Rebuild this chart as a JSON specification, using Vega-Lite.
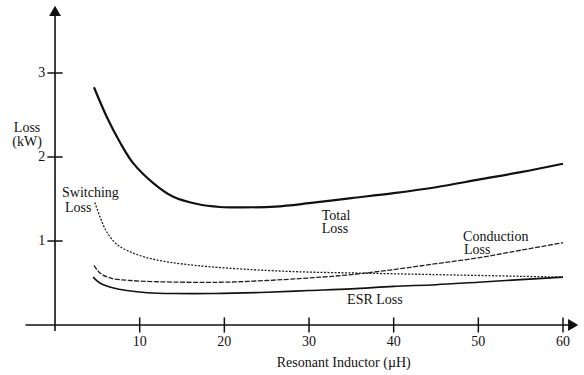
{
  "$schema": "https://vega.github.io/schema/vega-lite/v6.json",
  "width": 584,
  "height": 375,
  "padding": 0,
  "autosize": {"type": "fit", "contains": "padding"},
  "background": "white",
  "config": {"view": {"stroke": null}, "text": {"font": "Liberation Serif", "color": "#111"}},
  "datasets": {
    "one": [{}],
    "curves": [
      {"series": "Total", "L": 4.6, "loss": 2.83},
      {"series": "Total", "L": 6.1, "loss": 2.48},
      {"series": "Total", "L": 7.7, "loss": 2.17},
      {"series": "Total", "L": 9.2, "loss": 1.93},
      {"series": "Total", "L": 11.6, "loss": 1.69},
      {"series": "Total", "L": 13.9, "loss": 1.53},
      {"series": "Total", "L": 16.8, "loss": 1.44},
      {"series": "Total", "L": 19.5, "loss": 1.405},
      {"series": "Total", "L": 22, "loss": 1.40},
      {"series": "Total", "L": 26, "loss": 1.41},
      {"series": "Total", "L": 30, "loss": 1.45},
      {"series": "Total", "L": 35, "loss": 1.51},
      {"series": "Total", "L": 40, "loss": 1.57},
      {"series": "Total", "L": 45, "loss": 1.64},
      {"series": "Total", "L": 50, "loss": 1.73},
      {"series": "Total", "L": 55, "loss": 1.82},
      {"series": "Total", "L": 60, "loss": 1.92},
      {"series": "Switching", "L": 4.7, "loss": 1.46},
      {"series": "Switching", "L": 5.3, "loss": 1.29},
      {"series": "Switching", "L": 6.1, "loss": 1.11},
      {"series": "Switching", "L": 7.3, "loss": 0.96},
      {"series": "Switching", "L": 8.9, "loss": 0.87},
      {"series": "Switching", "L": 10.9, "loss": 0.80},
      {"series": "Switching", "L": 12.8, "loss": 0.76},
      {"series": "Switching", "L": 14.8, "loss": 0.73},
      {"series": "Switching", "L": 18.7, "loss": 0.69},
      {"series": "Switching", "L": 25, "loss": 0.65},
      {"series": "Switching", "L": 30, "loss": 0.63},
      {"series": "Switching", "L": 35, "loss": 0.62},
      {"series": "Switching", "L": 40, "loss": 0.61},
      {"series": "Switching", "L": 45, "loss": 0.60},
      {"series": "Switching", "L": 50, "loss": 0.59},
      {"series": "Switching", "L": 55, "loss": 0.58},
      {"series": "Switching", "L": 60, "loss": 0.57},
      {"series": "Conduction", "L": 4.6, "loss": 0.71},
      {"series": "Conduction", "L": 5.3, "loss": 0.62},
      {"series": "Conduction", "L": 6.5, "loss": 0.56},
      {"series": "Conduction", "L": 8.9, "loss": 0.53},
      {"series": "Conduction", "L": 14.8, "loss": 0.51},
      {"series": "Conduction", "L": 20, "loss": 0.51},
      {"series": "Conduction", "L": 25, "loss": 0.53},
      {"series": "Conduction", "L": 30, "loss": 0.56},
      {"series": "Conduction", "L": 35, "loss": 0.60},
      {"series": "Conduction", "L": 40, "loss": 0.66},
      {"series": "Conduction", "L": 45, "loss": 0.73},
      {"series": "Conduction", "L": 50, "loss": 0.80},
      {"series": "Conduction", "L": 55, "loss": 0.89},
      {"series": "Conduction", "L": 60, "loss": 0.98},
      {"series": "ESR", "L": 4.5, "loss": 0.57},
      {"series": "ESR", "L": 5.3, "loss": 0.50},
      {"series": "ESR", "L": 6.9, "loss": 0.44},
      {"series": "ESR", "L": 8.5, "loss": 0.41},
      {"series": "ESR", "L": 10.9, "loss": 0.385},
      {"series": "ESR", "L": 14, "loss": 0.375},
      {"series": "ESR", "L": 18.7, "loss": 0.375},
      {"series": "ESR", "L": 25, "loss": 0.39},
      {"series": "ESR", "L": 30, "loss": 0.41},
      {"series": "ESR", "L": 35, "loss": 0.43},
      {"series": "ESR", "L": 40, "loss": 0.46},
      {"series": "ESR", "L": 45, "loss": 0.48},
      {"series": "ESR", "L": 50, "loss": 0.51},
      {"series": "ESR", "L": 55, "loss": 0.54},
      {"series": "ESR", "L": 60, "loss": 0.57}
    ],
    "xticks": [{"v": 10, "t": "10"}, {"v": 20, "t": "20"}, {"v": 30, "t": "30"}, {"v": 40, "t": "40"}, {"v": 50, "t": "50"}, {"v": 60, "t": "60"}],
    "yticks": [{"v": 1, "t": "1"}, {"v": 2, "t": "2"}, {"v": 3, "t": "3"}],
    "notes": [
      {"x": 0.83, "y": 1.57, "t": "Switching"},
      {"x": 1.18, "y": 1.39, "t": "Loss"},
      {"x": 31.5, "y": 1.30, "t": "Total"},
      {"x": 31.5, "y": 1.14, "t": "Loss"},
      {"x": 48.2, "y": 1.05, "t": "Conduction"},
      {"x": 48.3, "y": 0.89, "t": "Loss"},
      {"x": 34.5, "y": 0.30, "t": "ESR Loss"}
    ],
    "ytitle": [
      {"x": -3.3, "y": 2.35, "t": "Loss"},
      {"x": -3.3, "y": 2.18, "t": "(kW)"}
    ],
    "xtitle": [{"x": 34.1, "y": -0.45, "t": "Resonant Inductor (µH)"}]
  },
  "encoding": {
    "x": {"type": "quantitative", "scale": {"domain": [-6.5, 62.48], "nice": false, "zero": false}, "axis": null},
    "y": {"type": "quantitative", "scale": {"domain": [-0.595, 3.869], "nice": false, "zero": false}, "axis": null}
  },
  "layer": [
    {
      "data": {"name": "one"},
      "mark": {"type": "rule", "color": "#111", "strokeWidth": 1.6},
      "encoding": {"x": {"datum": -3.5}, "x2": {"datum": 61.3}, "y": {"datum": 0}}
    },
    {
      "data": {"name": "one"},
      "mark": {"type": "rule", "color": "#111", "strokeWidth": 1.6},
      "encoding": {"x": {"datum": 0}, "y": {"datum": -0.07}, "y2": {"datum": 3.72}}
    },
    {
      "data": {"name": "one"},
      "mark": {"type": "point", "shape": "triangle-up", "filled": true, "color": "#111", "size": 140, "opacity": 1},
      "encoding": {"x": {"datum": 0}, "y": {"datum": 3.74}}
    },
    {
      "data": {"name": "one"},
      "mark": {"type": "point", "shape": "triangle-right", "filled": true, "color": "#111", "size": 140, "opacity": 1},
      "encoding": {"x": {"datum": 61.2}, "y": {"datum": 0}}
    },
    {
      "data": {"name": "xticks"},
      "mark": {"type": "rule", "color": "#111", "strokeWidth": 1.5},
      "encoding": {"x": {"field": "v", "type": "quantitative"}, "y": {"datum": -0.09}, "y2": {"datum": 0.09}}
    },
    {
      "data": {"name": "xticks"},
      "mark": {"type": "text", "fontSize": 14, "align": "center", "baseline": "middle"},
      "encoding": {"x": {"field": "v", "type": "quantitative"}, "y": {"datum": -0.2}, "text": {"field": "t"}}
    },
    {
      "data": {"name": "yticks"},
      "mark": {"type": "rule", "color": "#111", "strokeWidth": 1.5},
      "encoding": {"y": {"field": "v", "type": "quantitative"}, "x": {"datum": -0.9}, "x2": {"datum": 0.9}}
    },
    {
      "data": {"name": "yticks"},
      "mark": {"type": "text", "fontSize": 14, "align": "right", "baseline": "middle"},
      "encoding": {"y": {"field": "v", "type": "quantitative"}, "x": {"datum": -1.15}, "text": {"field": "t"}}
    },
    {
      "data": {"name": "curves"},
      "transform": [{"filter": "datum.series === 'Total'"}],
      "mark": {"type": "line", "color": "#111", "strokeWidth": 2.2, "interpolate": "catmull-rom"},
      "encoding": {"x": {"field": "L", "type": "quantitative"}, "y": {"field": "loss", "type": "quantitative"}}
    },
    {
      "data": {"name": "curves"},
      "transform": [{"filter": "datum.series === 'Switching'"}],
      "mark": {"type": "line", "color": "#222", "strokeWidth": 1.3, "strokeDash": [2, 1.5], "interpolate": "catmull-rom"},
      "encoding": {"x": {"field": "L", "type": "quantitative"}, "y": {"field": "loss", "type": "quantitative"}}
    },
    {
      "data": {"name": "curves"},
      "transform": [{"filter": "datum.series === 'Conduction'"}],
      "mark": {"type": "line", "color": "#222", "strokeWidth": 1.3, "strokeDash": [5, 1.5], "interpolate": "catmull-rom"},
      "encoding": {"x": {"field": "L", "type": "quantitative"}, "y": {"field": "loss", "type": "quantitative"}}
    },
    {
      "data": {"name": "curves"},
      "transform": [{"filter": "datum.series === 'ESR'"}],
      "mark": {"type": "line", "color": "#111", "strokeWidth": 1.6, "interpolate": "catmull-rom"},
      "encoding": {"x": {"field": "L", "type": "quantitative"}, "y": {"field": "loss", "type": "quantitative"}}
    },
    {
      "data": {"name": "notes"},
      "mark": {"type": "text", "fontSize": 14, "align": "left", "baseline": "middle"},
      "encoding": {"x": {"field": "x", "type": "quantitative"}, "y": {"field": "y", "type": "quantitative"}, "text": {"field": "t"}}
    },
    {
      "data": {"name": "ytitle"},
      "mark": {"type": "text", "fontSize": 14, "align": "center", "baseline": "middle"},
      "encoding": {"x": {"field": "x", "type": "quantitative"}, "y": {"field": "y", "type": "quantitative"}, "text": {"field": "t"}}
    },
    {
      "data": {"name": "xtitle"},
      "mark": {"type": "text", "fontSize": 14, "align": "center", "baseline": "middle"},
      "encoding": {"x": {"field": "x", "type": "quantitative"}, "y": {"field": "y", "type": "quantitative"}, "text": {"field": "t"}}
    }
  ]
}
